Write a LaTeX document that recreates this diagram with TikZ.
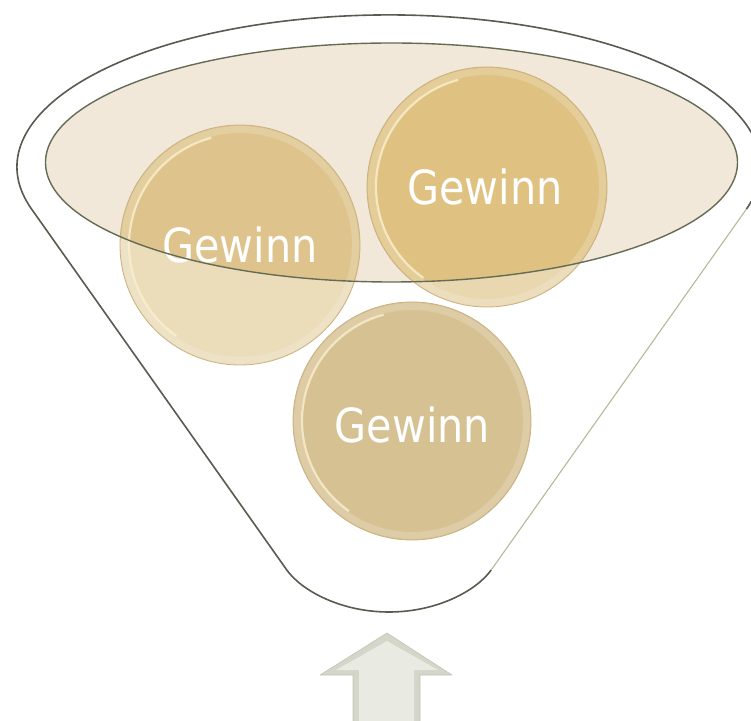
\documentclass[tikz,border=0pt]{standalone}
\usepackage{fontspec}
\newfontfamily\gfont{DejaVu Sans}[FakeStretch=0.88]
\definecolor{outerline}{HTML}{585B4E}
\definecolor{outerlight}{HTML}{B3BC98}
\definecolor{ellfill}{HTML}{F1E8DA}
\definecolor{ellline}{HTML}{656C55}
\definecolor{tlout}{HTML}{EBDCBA}
\definecolor{tlin}{HTML}{DEC48C}
\definecolor{trout}{HTML}{E9D7AF}
\definecolor{trin}{HTML}{DFC282}
\definecolor{bfill}{HTML}{D6C193}
\definecolor{rimdark}{HTML}{C9B283}
\definecolor{rimlight}{HTML}{FBF1CF}
\definecolor{arrowout}{HTML}{D3D6C8}
\definecolor{arrowin}{HTML}{E9EAE2}
\definecolor{arrowline}{HTML}{C2C5B5}
\tikzset{
  gtext/.style={font=\gfont\fontsize{47}{50}\selectfont, text=white, inner sep=0pt, anchor=base},
  rimouter/.style={draw=rimdark, line width=0.8pt},
  rimband/.style={draw=white, line width=7pt, opacity=0.18},
  rimhi/.style={draw=rimlight, line width=2.2pt, opacity=0.8}
}
\begin{document}
\begin{tikzpicture}[x=1pt,y=1pt]
\useasboundingbox (0,0) rectangle (751,720);
\clip (0,0) rectangle (751,720);
% funnel body
\coordinate (fl) at (31.6,510.9);
\coordinate (fr) at (746.4,510.9);
\coordinate (bl) at (286.8,150);
\coordinate (br) at (491.2,150);
\coordinate (bm) at (389,108);
\fill[white] (fl) arc[start angle=196.1, end angle=-16.1, x radius=372, y radius=152]
  -- (br) .. controls (477,130) and (438,108) .. (bm)
  .. controls (340,108) and (301,130) .. (bl) -- cycle;
\draw[outerline, line width=1.6pt, line join=round] (br) .. controls (477,130) and (438,108) .. (bm)
  .. controls (340,108) and (301,130) .. (bl) -- (fl)
  arc[start angle=196.1, end angle=-16.1, x radius=372, y radius=152];
\draw[outerlight, line width=1.1pt] (fr) -- (br);
% inner ellipse fill
\coordinate (ec) at (391.5,557.5);
\fill[ellfill] (ec) ellipse[x radius=346, y radius=119.5];
% circles
\coordinate (ctl) at (240,475);
\coordinate (ctr) at (487,533);
\coordinate (cb) at (412,299);
\fill[tlout] (ctl) circle[radius=120];
\fill[trout] (ctr) circle[radius=120];
\fill[bfill] (cb) circle[radius=119];
\begin{scope}
  \clip (ec) ellipse[x radius=346, y radius=119.5];
  \fill[tlin] (ctl) circle[radius=120];
  \fill[trin] (ctr) circle[radius=120];
\end{scope}
% rims
\foreach \c/\r in {ctl/120, ctr/120, cb/119}{
  \draw[rimband] (\c) circle[radius=\r-4.5];
  \draw[rimouter] (\c) circle[radius=\r];
  \draw[rimhi] ([shift={(105:\r-9)}]\c) arc[start angle=105, end angle=235, radius=\r-9];
}
% texts
\node[gtext] (t1) at (240,457) {Gewinn};
\node[gtext] (t2) at (485,515) {Gewinn};
\node[gtext] (t3) at (412.5,277) {Gewinn};
% inner ellipse outline on top
\draw[ellline, line width=1.4pt] (ec) ellipse[x radius=346, y radius=119.5];
% arrow
\fill[arrowout, draw=arrowline, line width=0.6pt, line join=round]
  (387,87) -- (452,45) -- (420,45) -- (420,-5) -- (353,-5) -- (353,45) -- (320,45) -- cycle;
\fill[arrowin]
  (387,79) -- (438,50) -- (414,50) -- (414,-5) -- (359,-5) -- (359,50) -- (336,50) -- cycle;
\end{tikzpicture}
\end{document}
